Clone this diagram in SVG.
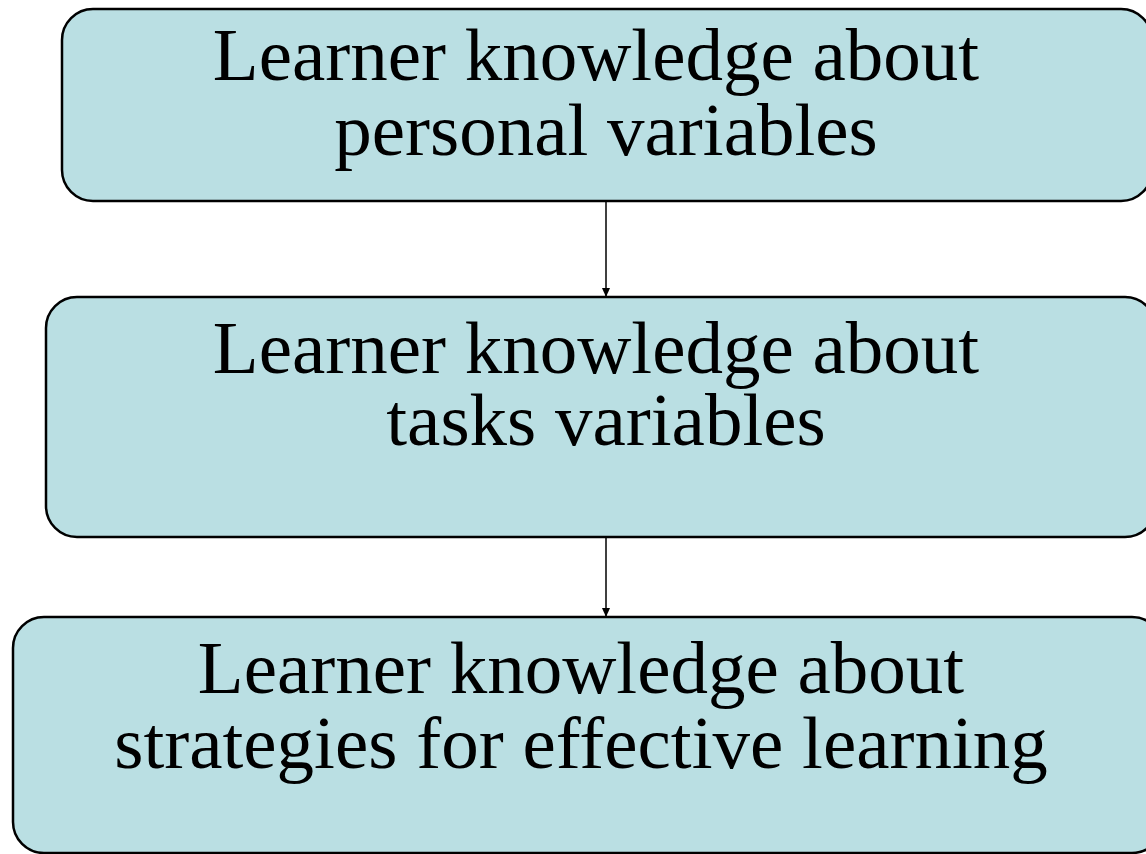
<svg xmlns="http://www.w3.org/2000/svg" width="1146" height="854" viewBox="0 0 1146 854">
<style>
.box{fill:#BADFE3;stroke:#000;stroke-width:2.5}
.t{font-family:"Liberation Serif","Times New Roman",serif;font-size:75px;fill:#000;text-anchor:middle}
.c{stroke:#000;stroke-width:1.5;fill:none}
</style>
<defs>
<marker id="ah" markerWidth="10" markerHeight="10" refX="9" refY="5" orient="auto" markerUnits="userSpaceOnUse"><path d="M0,1 L9,5 L0,9 Z" fill="#000"/></marker>
</defs>
<rect width="1146" height="854" fill="#fff"/>
<g id="connectors">
<line class="c" x1="606" y1="201" x2="606" y2="297" marker-end="url(#ah)"/>
<line class="c" x1="606" y1="537" x2="606" y2="617" marker-end="url(#ah)"/>
</g>
<g id="node1">
<rect class="box" x="62" y="9" width="1090" height="192" rx="31"/>
<text class="t" x="596" y="80">Learner knowledge about</text>
<text class="t" x="606" y="155">personal variables</text>
</g>
<g id="node2">
<rect class="box" x="46" y="297" width="1110" height="240" rx="31"/>
<text class="t" x="596" y="373">Learner knowledge about</text>
<text class="t" x="606" y="445">tasks variables</text>
</g>
<g id="node3">
<rect class="box" x="13" y="617" width="1150" height="236" rx="31"/>
<text class="t" x="581" y="693">Learner knowledge about</text>
<text class="t" x="581" y="768">strategies for effective learning</text>
</g>
</svg>
